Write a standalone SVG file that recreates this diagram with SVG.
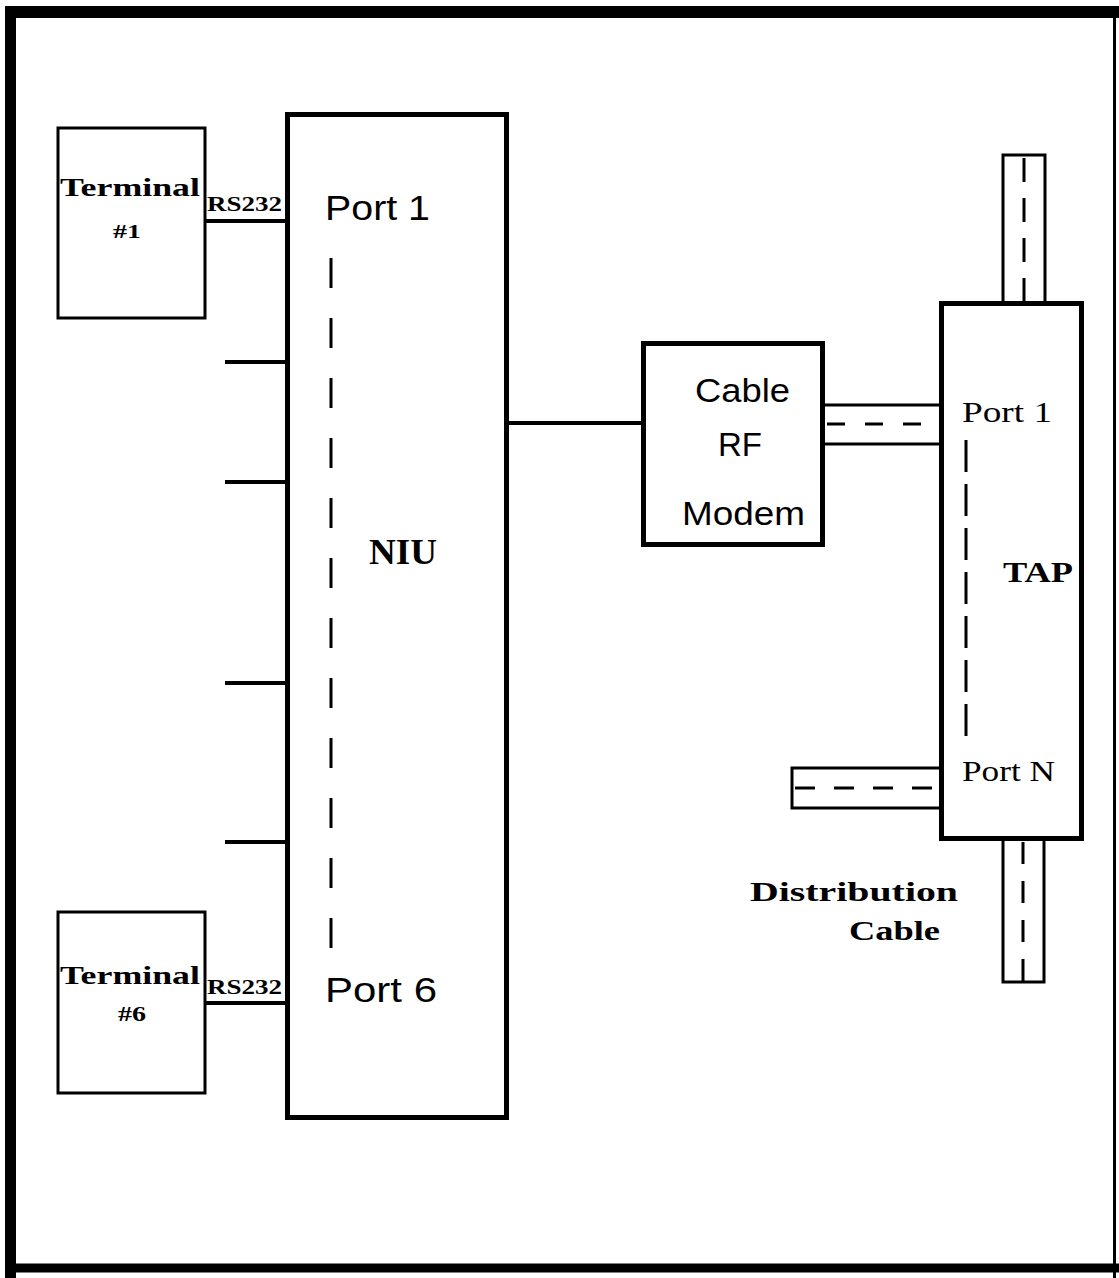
<svg xmlns="http://www.w3.org/2000/svg" width="1119" height="1278" viewBox="0 0 1119 1278">
<style>
.box{fill:none;stroke:#000;stroke-width:5}
.tbox{fill:none;stroke:#000;stroke-width:3}
.ln{stroke:#000;stroke-width:4;fill:none}
.thin{stroke:#000;stroke-width:3;fill:none}
.dash{stroke:#000;stroke-width:3;fill:none}
.bs{font-family:"Liberation Serif","DejaVu Serif",serif;font-weight:bold;fill:#000}
.ss{font-family:"Liberation Sans","DejaVu Sans",sans-serif;fill:#000}
.sr{font-family:"Liberation Serif","DejaVu Serif",serif;fill:#000}
</style>
<rect x="0" y="0" width="1119" height="1278" fill="#fff"/>
<g id="frame">
<line x1="10.5" y1="6" x2="10.5" y2="1278" stroke="#000" stroke-width="11"/>
<line x1="5" y1="12" x2="1119" y2="12" stroke="#000" stroke-width="12"/>
<line x1="1114.5" y1="7" x2="1114.5" y2="1278" stroke="#000" stroke-width="3"/>
<line x1="5" y1="1268" x2="1119" y2="1268" stroke="#000" stroke-width="9"/>
</g>
<g id="connectors">
<line class="ln" x1="205" y1="221" x2="287" y2="221"/>
<line class="ln" x1="205" y1="1003" x2="287" y2="1003"/>
<line class="ln" x1="225" y1="362" x2="287" y2="362"/>
<line class="ln" x1="225" y1="482" x2="287" y2="482"/>
<line class="ln" x1="225" y1="683" x2="287" y2="683"/>
<line class="ln" x1="225" y1="842" x2="287" y2="842"/>
<line class="ln" x1="507" y1="423" x2="643" y2="423"/>
<g id="coax-modem-tap">
<line class="thin" x1="823" y1="405" x2="941" y2="405"/>
<line class="thin" x1="823" y1="444" x2="941" y2="444"/>
<line class="dash" x1="827" y1="424" x2="935" y2="424" stroke-dasharray="18 20"/>
</g>
<g id="coax-portN">
<polyline class="thin" points="941,768 792,768 792,808 941,808"/>
<line class="dash" x1="795" y1="788" x2="935" y2="788" stroke-dasharray="20 19"/>
</g>
<g id="dist-cable-top">
<polyline class="thin" points="1003,303 1003,155 1045,155 1045,303"/>
<line class="dash" x1="1024" y1="158" x2="1024" y2="303" stroke-dasharray="24 16"/>
</g>
<g id="dist-cable-bottom">
<polyline class="thin" points="1003,839 1003,982 1044,982 1044,839"/>
<line class="dash" x1="1023" y1="842" x2="1023" y2="982" stroke-dasharray="22 17"/>
</g>
</g>
<g id="terminal1">
<rect class="tbox" x="58" y="128" width="147" height="190"/>
<text class="bs" x="60" y="196" font-size="26" textLength="140" lengthAdjust="spacingAndGlyphs">Terminal</text>
<text class="bs" x="113" y="238" font-size="19" textLength="28" lengthAdjust="spacingAndGlyphs">#1</text>
<text class="bs" x="207" y="211" font-size="21" textLength="75" lengthAdjust="spacingAndGlyphs">RS232</text>
</g>
<g id="terminal6">
<rect class="tbox" x="58" y="912" width="147" height="181"/>
<text class="bs" x="60" y="984" font-size="26" textLength="140" lengthAdjust="spacingAndGlyphs">Terminal</text>
<text class="bs" x="118" y="1021" font-size="22" textLength="28" lengthAdjust="spacingAndGlyphs">#6</text>
<text class="bs" x="207" y="994" font-size="21" textLength="75" lengthAdjust="spacingAndGlyphs">RS232</text>
</g>
<g id="niu">
<rect class="box" x="287.5" y="114.5" width="219" height="1003"/>
<text class="ss" x="325" y="220" font-size="35" textLength="105" lengthAdjust="spacingAndGlyphs">Port 1</text>
<line class="dash" x1="331" y1="258" x2="331" y2="948" stroke-dasharray="30 30"/>
<text class="bs" x="369" y="564" font-size="36" textLength="68" lengthAdjust="spacingAndGlyphs">NIU</text>
<text class="ss" x="325" y="1002" font-size="35" textLength="112" lengthAdjust="spacingAndGlyphs">Port 6</text>
</g>
<g id="modem">
<rect class="box" x="643.5" y="343.5" width="179" height="201"/>
<text class="ss" x="695" y="402" font-size="34" textLength="95" lengthAdjust="spacingAndGlyphs">Cable</text>
<text class="ss" x="718" y="456" font-size="34" textLength="44" lengthAdjust="spacingAndGlyphs">RF</text>
<text class="ss" x="682" y="525" font-size="34" textLength="123" lengthAdjust="spacingAndGlyphs">Modem</text>
</g>
<g id="tap">
<rect class="box" x="941.5" y="303.5" width="140" height="535"/>
<text class="sr" x="962" y="422" font-size="29" textLength="90" lengthAdjust="spacingAndGlyphs">Port 1</text>
<line class="dash" x1="966" y1="440" x2="966" y2="745" stroke-dasharray="32 12"/>
<text class="bs" x="1003" y="582" font-size="29" textLength="70" lengthAdjust="spacingAndGlyphs">TAP</text>
<text class="sr" x="962" y="781" font-size="29" textLength="93" lengthAdjust="spacingAndGlyphs">Port N</text>
</g>
<g id="dist-label">
<text class="bs" x="750" y="901" font-size="28" textLength="208" lengthAdjust="spacingAndGlyphs">Distribution</text>
<text class="bs" x="849" y="940" font-size="28" textLength="91" lengthAdjust="spacingAndGlyphs">Cable</text>
</g>
</svg>
